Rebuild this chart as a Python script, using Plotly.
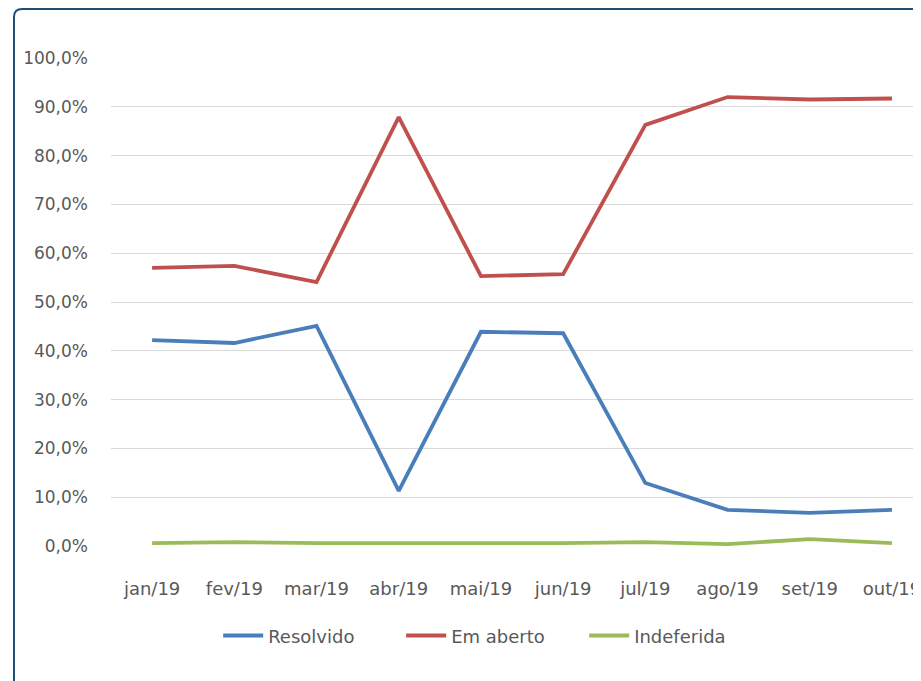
import plotly.graph_objects as go

months = ["jan/19", "fev/19", "mar/19", "abr/19", "mai/19", "jun/19",
          "jul/19", "ago/19", "set/19", "out/19"]
resolvido = [42.2, 41.6, 45.1, 11.3, 43.9, 43.6, 12.9, 7.4, 6.8, 7.4]
em_aberto = [57.0, 57.4, 54.1, 87.9, 55.3, 55.7, 86.3, 92.0, 91.5, 91.7]
indeferida = [0.6, 0.8, 0.6, 0.6, 0.6, 0.6, 0.8, 0.4, 1.4, 0.6]
y_ticks = [0, 10, 20, 30, 40, 50, 60, 70, 80, 90, 100]

series = [("Resolvido", resolvido, "#4A7EBB"),
          ("Em aberto", em_aberto, "#C0504D"),
          ("Indeferida", indeferida, "#9BBB59")]

fig = go.Figure()
for name, vals, color in series:
    fig.add_trace(go.Scatter(x=months, y=vals, name=name, mode="lines",
                             line=dict(color=color, width=3.8)))

font_color = "#595959"
fig.update_layout(
    width=921, height=681,
    margin=dict(l=103, r=0, t=50, b=143, autoexpand=False),
    paper_bgcolor="white", plot_bgcolor="white",
    separators=",.",
    font=dict(family="DejaVu Sans", size=17, color=font_color),
    showlegend=True,
    legend=dict(orientation="h", x=0.131, xanchor="left", y=-0.184, yanchor="middle",
                font=dict(size=18, color=font_color), itemwidth=40,
                entrywidth=128, entrywidthmode="pixels",
                traceorder="normal"),
    xaxis=dict(type="category", range=[-0.5, 9.45], showgrid=False, zeroline=False,
               showline=False, ticks="", ticklabelstandoff=30, automargin=False,
               tickfont=dict(size=18, color=font_color)),
    yaxis=dict(range=[0, 100], tickvals=y_ticks, automargin=False,
               ticktext=[f"{v:.1f}%".replace(".", ",") for v in y_ticks],
               showgrid=True, gridcolor="#D9D9D9", gridwidth=1.2, zeroline=False,
               showline=False, ticks="", ticklabelstandoff=22,
               tickfont=dict(size=17, color=font_color)),
)

# rounded frame (left and top edges visible)
x0, y1 = -0.1186, 1.1004
rx, ry = 0.0099, 0.0164
path = (f"M {x0},-0.4 L {x0},{y1 - ry} Q {x0},{y1} {x0 + rx},{y1} L 1.05,{y1}")
fig.add_shape(type="path", xref="paper", yref="paper", path=path,
              line=dict(color="#1F4E79", width=2))

fig.write_html("out.html")
